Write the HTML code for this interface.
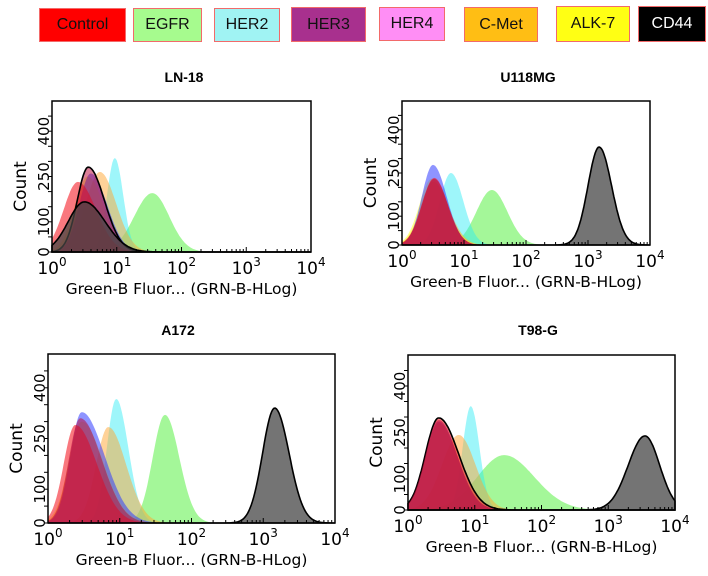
<!DOCTYPE html>
<html><head><meta charset="utf-8">
<style>
body{margin:0;background:#fff;width:708px;height:576px;overflow:hidden;font-family:"Liberation Sans",sans-serif}
.leg{position:absolute;box-sizing:border-box;border:1.5px solid #f26a6a;display:flex;align-items:center;justify-content:center;font-size:16px;color:#111}
</style></head><body>
<div>
<div class="leg" style="left:39px;top:8px;width:87px;height:34px;background:#ff0000">Control</div>
<div class="leg" style="left:133px;top:8px;width:69px;height:34px;background:#a6fb8e">EGFR</div>
<div class="leg" style="left:214px;top:8px;width:66px;height:34px;background:#a0f3f3">HER2</div>
<div class="leg" style="left:291px;top:7px;width:75px;height:35px;background:#a8308e">HER3</div>
<div class="leg" style="left:379px;top:7px;width:66px;height:34px;background:#ff8ef5">HER4</div>
<div class="leg" style="left:464px;top:7px;width:74px;height:35px;background:#ffbe14">C-Met</div>
<div class="leg" style="left:556px;top:6px;width:74px;height:36px;background:#ffff14">ALK-7</div>
<div class="leg" style="left:638px;top:6px;width:68px;height:36px;background:#000;color:#fff">CD44</div>
</div>
<svg id="chart" width="708" height="576" style="position:absolute;left:0;top:0"></svg>
<script>
// series order (draw order)
const seriesNames = ["EGFR","HER2","C-Met","ALK-7","HER4","Control","HER3","CD44"];
const seriesFill = ["rgba(90,240,70,0.55)","rgba(40,235,245,0.45)","rgba(255,165,50,0.5)","rgba(255,255,0,0.45)","rgba(50,60,255,0.55)","rgba(245,30,40,0.6)","rgba(185,0,50,0.5)","rgba(70,70,70,0.75)"];
const xTickLabels = ["0","1","2","3","4"];
const yTickValues = [0,100,250,400];
const panelTitles = ["LN-18","U118MG","A172","T98-G"];
// per panel: peak position (log10 fluorescence), peak count, left/right spread (decades)
const peakLogLN18 = [1.55,0.97,0.74,0.55,0.60,0.40,0.56,0.50];
const peakCountLN18 = [195,311,265,250,260,232,281,166];
const spreadLLN18 = [0.28,0.12,0.22,0.2,0.18,0.22,0.17,0.25];
const spreadRLN18 = [0.26,0.13,0.25,0.25,0.25,0.28,0.25,0.32];
const outlineLN18 = [0,0,0,0,0,0,1,1];

const peakLogU118 = [1.45,0.79,0.50,0.48,0.50,0.52,0.52,3.18];
const peakCountU118 = [191,250,220,230,278,233,230,340];
const spreadLU118 = [0.25,0.18,0.2,0.2,0.18,0.2,0.2,0.18];
const spreadRU118 = [0.25,0.2,0.25,0.25,0.22,0.22,0.22,0.2];
const outlineU118 = [0,0,0,0,0,0,0,1];

const peakLogA172 = [1.63,0.95,0.84,0.47,0.47,0.38,0.45,3.16];
const peakCountA172 = [320,367,284,300,328,290,310,340];
const spreadLA172 = [0.17,0.13,0.17,0.18,0.16,0.16,0.16,0.17];
const spreadRA172 = [0.2,0.17,0.25,0.3,0.32,0.3,0.3,0.2];
const outlineA172 = [0,0,0,0,0,0,0,1];

const peakLogT98 = [1.44,0.94,0.76,0.46,0.46,0.46,0.46,3.55];
const peakCountT98 = [177,335,242,280,285,297,290,239];
const spreadLT98 = [0.4,0.12,0.25,0.2,0.2,0.2,0.2,0.25];
const spreadRT98 = [0.45,0.13,0.25,0.28,0.28,0.3,0.28,0.22];
const outlineT98 = [0,0,0,0,0,1,0,1];

const panels = [
 {x0:52,x1:311,y0:101,y1:252,tx:184,ty:82,p:peakLogLN18,h:peakCountLN18,l:spreadLLN18,r:spreadRLN18,o:outlineLN18,name:"panel-ln18"},
 {x0:402,x1:650,y0:101,y1:245,tx:528,ty:82,p:peakLogU118,h:peakCountU118,l:spreadLU118,r:spreadRU118,o:outlineU118,name:"panel-u118mg"},
 {x0:48,x1:335,y0:354,y1:523,tx:178,ty:335,p:peakLogA172,h:peakCountA172,l:spreadLA172,r:spreadRA172,o:outlineA172,name:"panel-a172"},
 {x0:408,x1:675,y0:355,y1:510,tx:538,ty:335,p:peakLogT98,h:peakCountT98,l:spreadLT98,r:spreadRT98,o:outlineT98,name:"panel-t98g"}
];
const NS="http://www.w3.org/2000/svg";
const svg=document.getElementById('chart');
function mk(t,a,parent){const e=document.createElementNS(NS,t);for(const k in a)e.setAttribute(k,a[k]);(parent||svg).appendChild(e);return e;}
const YMAX=500;
panels.forEach((P,pi)=>{
  const g=mk('g',{});
  
  
  const xs=v=>P.x0+(v/4)*(P.x1-P.x0);
  const ys=c=>P.y1-(c/YMAX)*(P.y1-P.y0);
  const t=mk('text',{x:P.tx,y:P.ty,'text-anchor':'middle','font-size':'14','font-weight':'bold','font-family':'Liberation Sans, sans-serif'},g);
  t.textContent=panelTitles[pi];
  
  
  for(let s=0;s<seriesNames.length;s++){
    let d=`M${xs(0)},${ys(0)}`;
    for(let i=0;i<=240;i++){const v=4*i/240;const dd=v-P.p[s];const sd=dd<0?P.l[s]:P.r[s];
      const c=P.h[s]*Math.exp(-dd*dd/(2*sd*sd));d+=` L${xs(v).toFixed(1)},${ys(c).toFixed(1)}`;}
    d+=` L${xs(4)},${ys(0)} Z`;
    const path=mk('path',{d:d,fill:seriesFill[s],stroke:P.o[s]?'#000':'none','stroke-width':P.o[s]?1.6:0},g);
    
    
  }
  const box=mk('rect',{x:P.x0,y:P.y0,width:P.x1-P.x0,height:P.y1-P.y0,fill:'none',stroke:'#000','stroke-width':1.5},g);
  
  
  for(let dec=0;dec<4;dec++){for(let m=1;m<10;m++){const v=dec+Math.log10(m);const x=xs(v);
    mk('line',{x1:x,x2:x,y1:P.y1,y2:P.y1-(m===1?5:3),stroke:'#000','stroke-width':1},g);}}
  xTickLabels.forEach((lab,i)=>{const tx=mk('text',{x:xs(i),y:P.y1+22,'text-anchor':'middle','font-size':'17','font-family':'DejaVu Sans, sans-serif'},g);
    tx.textContent='10';const sp=mk('tspan',{dy:'-8','font-size':'12'},tx);sp.textContent=lab;
    });
  const xt=mk('text',{x:(P.x0+P.x1)/2,y:P.y1+42,'text-anchor':'middle','font-size':'15.5','font-family':'DejaVu Sans, sans-serif'},g);
  xt.textContent='Green-B Fluor... (GRN-B-HLog)';
  
  for(let c=0;c<=450;c+=50){const y=ys(c);mk('line',{x1:P.x0-4,x2:P.x0,y1:y,y2:y,stroke:'#000','stroke-width':1},g);}
  yTickValues.forEach(c=>{const y=ys(c);const ty=mk('text',{x:0,y:0,'text-anchor':'middle','font-size':'15','font-family':'DejaVu Sans, sans-serif',transform:`translate(${P.x0-3},${y}) rotate(-90)`},g);
    ty.textContent=String(c);});
  const yt=mk('text',{x:0,y:0,'text-anchor':'middle','font-size':'17','font-family':'DejaVu Sans, sans-serif',transform:`translate(${P.x0-26},${(P.y0+P.y1)/2+10}) rotate(-90)`},g);
  yt.textContent='Count';
  
});
</script>
</body></html>
